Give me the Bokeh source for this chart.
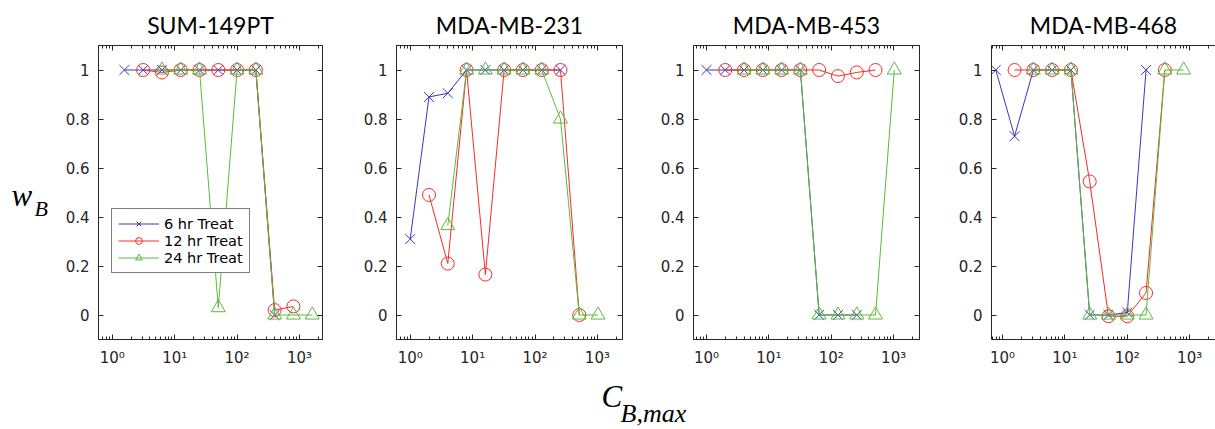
from bokeh.plotting import figure
from bokeh.models import FixedTicker, LinearAxis, LogAxis, Range1d, Label, Legend, LegendItem
from bokeh.layouts import row, column
from bokeh.embed import file_html
from bokeh.resources import INLINE

# ---- data -------------------------------------------------------------
cell_lines = ["SUM-149PT", "MDA-MB-231", "MDA-MB-453", "MDA-MB-468"]
series_names = ["6 hr Treat", "12 hr Treat", "24 hr Treat"]

# SUM-149PT
sum149_c6 = [1.5625, 3.125, 6.25, 12.5, 25, 50, 100, 200, 400]
sum149_w6 = [1, 1, 1, 1, 1, 1, 1, 1, 0]
sum149_c12 = [3.125, 6.25, 12.5, 25, 50, 100, 200, 400, 800]
sum149_w12 = [1, 0.99, 1, 1, 1, 1, 1, 0.02, 0.035]
sum149_c24 = [6.25, 12.5, 25, 50, 100, 200, 400, 800, 1600]
sum149_w24 = [1, 1, 1, 0.03, 1, 1, 0, 0, 0]

# MDA-MB-231
mb231_c6 = [1, 2, 4, 8, 16, 32, 64, 128, 256]
mb231_w6 = [0.31, 0.89, 0.905, 1, 1, 1, 1, 1, 1]
mb231_c12 = [2, 4, 8, 16, 32, 64, 128, 256, 512]
mb231_w12 = [0.49, 0.21, 1, 0.165, 1, 1, 1, 1, 0]
mb231_c24 = [4, 8, 16, 32, 64, 128, 256, 512, 1024]
mb231_w24 = [0.365, 1, 1, 1, 1, 1, 0.8, 0, 0]

# MDA-MB-453
mb453_c6 = [1, 2, 4, 8, 16, 32, 64, 128, 256]
mb453_w6 = [1, 1, 1, 1, 1, 1, 0, 0, 0]
mb453_c12 = [2, 4, 8, 16, 32, 64, 128, 256, 512]
mb453_w12 = [1, 1, 1, 1, 1, 1, 0.975, 0.99, 1]
mb453_c24 = [4, 8, 16, 32, 64, 128, 256, 512, 1024]
mb453_w24 = [1, 1, 1, 1, 0, 0, 0, 0, 1]

# MDA-MB-468
mb468_c6 = [0.78125, 1.5625, 3.125, 6.25, 12.5, 25, 50, 100, 200]
mb468_w6 = [1, 0.73, 1, 1, 1, 0, 0, 0.01, 1]
mb468_c12 = [1.5625, 3.125, 6.25, 12.5, 25, 50, 100, 200, 400]
mb468_w12 = [1, 1, 1, 1, 0.545, -0.005, -0.005, 0.09, 1]
mb468_c24 = [3.125, 6.25, 12.5, 25, 50, 100, 200, 400, 800]
mb468_w24 = [1, 1, 1, 0, 0, 0, 0, 1, 1]

x_major = [1, 10, 100, 1000]
x_major_labels = ["10\u2070", "10\u00b9", "10\u00b2", "10\u00b3"]
y_major = [0, 0.2, 0.4, 0.6, 0.8, 1]
y_major_labels = ["0", "0.2", "0.4", "0.6", "0.8", "1"]

panels = [
    (cell_lines[0], [(sum149_c6, sum149_w6), (sum149_c12, sum149_w12), (sum149_c24, sum149_w24)]),
    (cell_lines[1], [(mb231_c6, mb231_w6), (mb231_c12, mb231_w12), (mb231_c24, mb231_w24)]),
    (cell_lines[2], [(mb453_c6, mb453_w6), (mb453_c12, mb453_w12), (mb453_c24, mb453_w24)]),
    (cell_lines[3], [(mb468_c6, mb468_w6), (mb468_c12, mb468_w12), (mb468_c24, mb468_w24)]),
]

# ---- styling -----------------------------------------------------------
COLORS = ["#3838bc", "#f52c2a", "#5cbb3a"]
MARKERS = ["x", "circle", "triangle"]
SIZES = [14, 13, 14]
AXIS_COLOR = "#262626"
TICK_FONT = "DejaVu Sans"
TITLE_FONT = "Lato"
ROW_TOP, FRAME_H, ROW_BOTTOM = 45, 294, 40
ROW_H = ROW_TOP + FRAME_H + ROW_BOTTOM
LEFT_STRIP = 55

minor = [m * 10.0 ** e for e in range(-1, 4) for m in range(2, 10)]

# (figure width, left border, right border, log10 x start, log10 x end)
geometry = [
    (359 - LEFT_STRIP, 98 - LEFT_STRIP, 37, -0.221, 3.369),
    (298, 37, 35, -0.220, 3.402),
    (298, 36, 36, -0.208, 3.414),
    (260, 36, 0, -0.176, 3.414),
]


def style_axis(ax, ticker, overrides=None, labels=True):
    ax.ticker = ticker
    ax.axis_line_color = AXIS_COLOR
    ax.major_tick_line_color = AXIS_COLOR
    ax.minor_tick_line_color = AXIS_COLOR
    ax.major_tick_in = 5
    ax.major_tick_out = 0
    ax.minor_tick_in = 3
    ax.minor_tick_out = 0
    if labels:
        ax.major_label_overrides = overrides
        ax.major_label_text_font = TICK_FONT
        ax.major_label_text_font_size = "15px"
        ax.major_label_text_color = AXIS_COLOR
    else:
        ax.major_label_text_color = None
        ax.major_label_text_font_size = "1px"
        ax.major_label_standoff = 0


def blank_strip(width, height):
    f = figure(width=width, height=height, x_range=Range1d(0, 1), y_range=Range1d(0, 1),
               x_axis_location=None, y_axis_location=None, min_border=0,
               output_backend="svg", toolbar_location=None)
    f.xgrid.visible = False
    f.ygrid.visible = False
    f.outline_line_color = None
    return f


# strip at the left carrying the y quantity
left = blank_strip(LEFT_STRIP, ROW_H)
left.add_layout(Label(x=11, y=127, x_units="screen", y_units="screen", text="w",
                      text_font="Liberation Serif", text_font_style="italic",
                      text_font_size="31px", text_color="#000000"))
left.add_layout(Label(x=34, y=119, x_units="screen", y_units="screen", text="B",
                      text_font="Liberation Serif", text_font_style="italic",
                      text_font_size="22px", text_color="#000000"))

figs = [left]
for i, (name, series) in enumerate(panels):
    width, lb, rb, x0, x1 = geometry[i]
    p = figure(
        width=width, height=ROW_H,
        x_axis_type="log",
        x_range=Range1d(10 ** x0, 10 ** x1), y_range=Range1d(-0.1, 1.1),
        min_border_left=lb, min_border_right=rb,
        min_border_top=ROW_TOP, min_border_bottom=ROW_BOTTOM,
        output_backend="svg", toolbar_location=None, title=name,
    )
    p.title.align = "center"
    p.title.text_font = TITLE_FONT
    p.title.text_font_size = "23px"
    p.title.text_font_style = "normal"
    p.title.text_color = "#000000"
    p.title.standoff = 14
    p.xgrid.visible = False
    p.ygrid.visible = False
    p.outline_line_color = AXIS_COLOR if i < 3 else None
    p.background_fill_color = "white"
    p.border_fill_color = "white"

    style_axis(p.xaxis[0], FixedTicker(ticks=x_major, minor_ticks=minor),
               dict(zip(x_major, x_major_labels)))
    p.xaxis[0].major_label_standoff = 9
    style_axis(p.yaxis[0], FixedTicker(ticks=y_major, minor_ticks=[]),
               dict(zip(y_major, y_major_labels)))
    p.yaxis[0].major_label_standoff = 9

    top = LogAxis()
    style_axis(top, FixedTicker(ticks=x_major, minor_ticks=minor), labels=False)
    p.add_layout(top, "above")
    if i < 3:
        rgt = LinearAxis()
        style_axis(rgt, FixedTicker(ticks=y_major, minor_ticks=[]), labels=False)
        p.add_layout(rgt, "right")

    items = []
    for k, (cx, wy) in enumerate(series):
        ln = p.line(cx, wy, line_color=COLORS[k], line_width=1)
        mk = p.scatter(cx, wy, marker=MARKERS[k], size=SIZES[k],
                       line_color=COLORS[k], fill_color=None, line_width=1)
        items.append(LegendItem(label=series_names[k], renderers=[ln, mk]))

    if i == 0:
        legend = Legend(items=items, location=(13, 66))
        legend.label_text_font = TICK_FONT
        legend.label_text_font_size = "14.5px"
        legend.label_text_color = "#000000"
        legend.glyph_width = 41
        legend.glyph_height = 17
        legend.label_height = 17
        legend.label_standoff = 5
        legend.spacing = 0
        legend.padding = 6
        legend.margin = 0
        legend.border_line_color = "#000000"
        legend.border_line_width = 1
        legend.background_fill_color = "white"
        legend.background_fill_alpha = 1
        p.add_layout(legend, "center")
    figs.append(p)

# strip below the panels carrying the shared x quantity
bottom = blank_strip(1215, 429 - ROW_H)
bottom.add_layout(Label(x=601, y=16, x_units="screen", y_units="screen", text="C",
                        text_font="Liberation Serif", text_font_style="italic",
                        text_font_size="31px", text_color="#000000"))
bottom.add_layout(Label(x=620, y=2, x_units="screen", y_units="screen", text="B,max",
                        text_font="Liberation Serif", text_font_style="italic",
                        text_font_size="26px", text_color="#000000"))

layout = column(row(*figs, spacing=0), bottom, spacing=0)
open("out.html", "w").write(file_html(layout, INLINE))
